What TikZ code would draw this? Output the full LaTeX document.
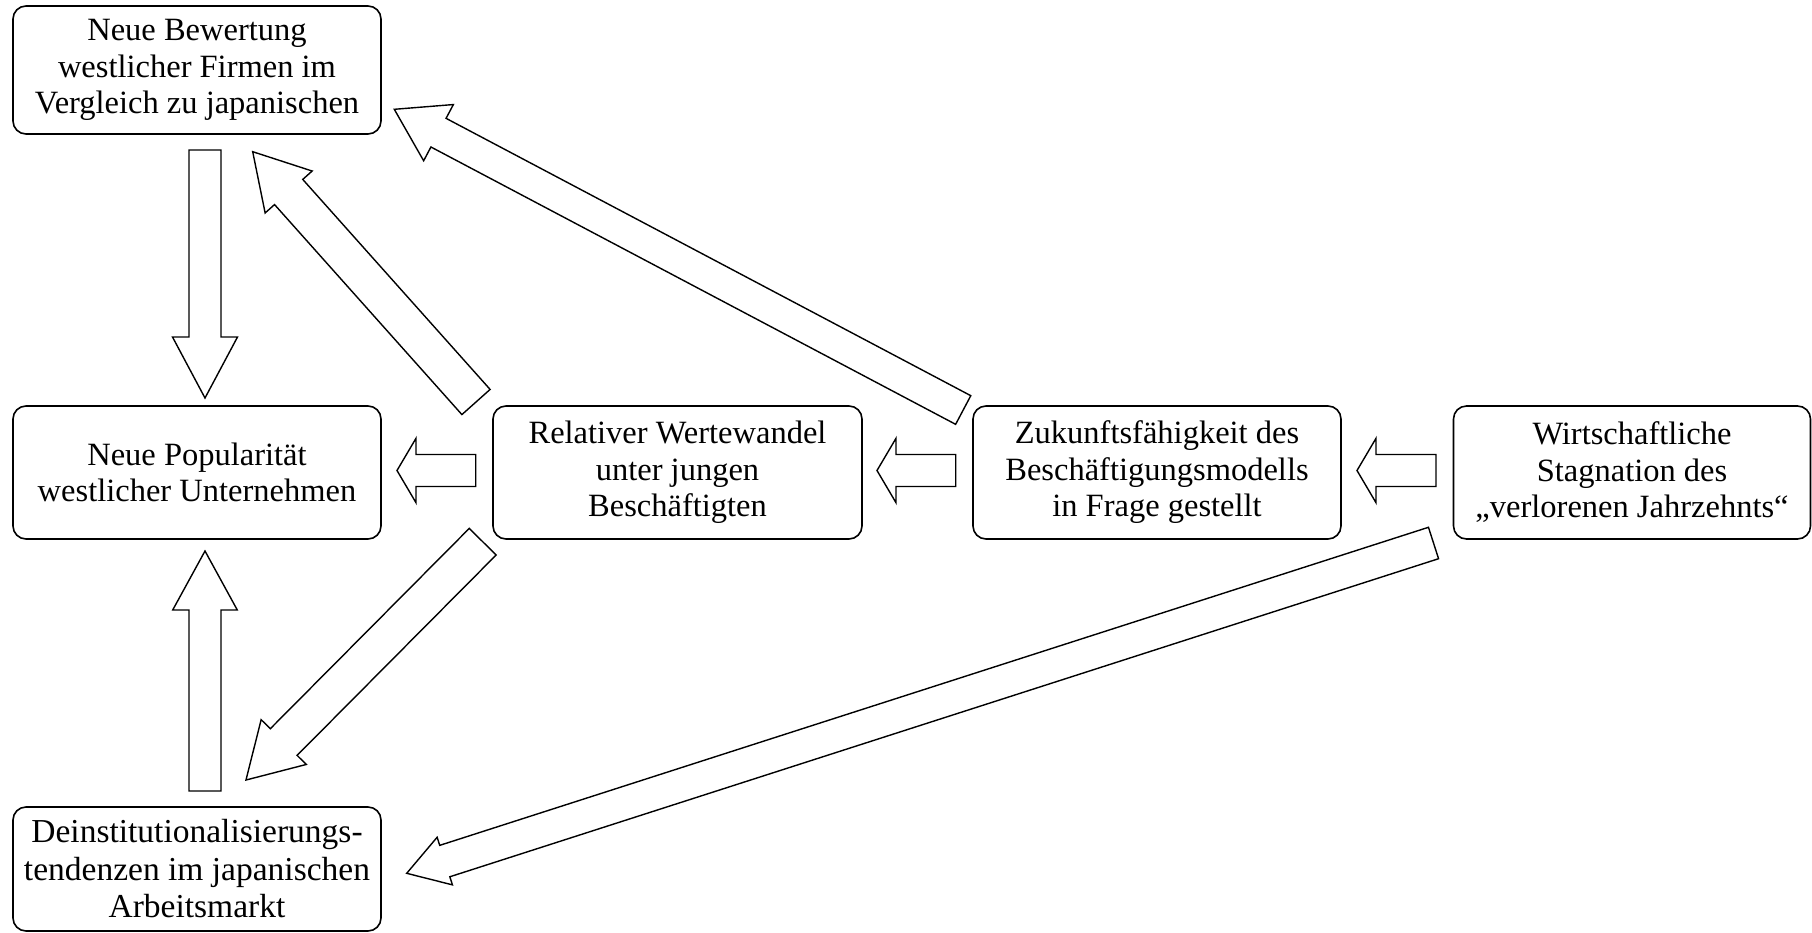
\documentclass[tikz,border=0pt]{standalone}
\usepackage{fontspec}
\setmainfont{Liberation Serif}
\usetikzlibrary{calc}
\tikzset{
  box/.style={draw, line width=1.6pt, rounded corners=13pt, align=center,
    font=\fontsize{32.5}{36.5}\selectfont, inner sep=0pt},
  barrow/.style={draw, line width=1.4pt, line join=miter, fill=white},
}
% #1 tail, #2 tip, #3 half shaft width, #4 half head width, #5 head length
\newcommand\blkarrow[5]{%
  \path ($(#2)!#5!(#1)$) coordinate (hb);
  \draw[barrow] ($(#1)!#3!90:(#2)$) -- ($(hb)!#3!-90:(#1)$) -- ($(hb)!#4!-90:(#1)$)
    -- (#2) -- ($(hb)!#4!90:(#1)$) -- ($(hb)!#3!90:(#1)$) -- ($(#1)!#3!-90:(#2)$) -- cycle;
}
\begin{document}
\begin{tikzpicture}[x=1pt,y=-1pt]
\useasboundingbox (0,0) rectangle (1812,932);
% boxes
\node[box, minimum width=368pt, minimum height=128pt] (A) at (197,70)
  {Neue Bewertung\\westlicher Firmen im\\Vergleich zu japanischen};
\node[box, minimum width=368pt, minimum height=133pt] (B) at (197,472.5)
  {Neue Popularität\\westlicher Unternehmen};
\node[box, minimum width=369pt, minimum height=133pt] (C) at (677.5,472.5)
  {Relativer Wertewandel\\unter jungen\\Beschäftigten};
\node[box, minimum width=368pt, minimum height=133pt] (D) at (1157,472.5)
  {Zukunftsfähigkeit des\\Beschäftigungsmodells\\in Frage gestellt};
\node[box, minimum width=357pt, minimum height=133pt] (E) at (1632,472.5)
  {Wirtschaftliche\\Stagnation des\\„verlorenen Jahrzehnts“};
\node[box, minimum width=368pt, minimum height=124pt,
  font=\fontsize{33.5}{37.5}\selectfont] (F) at (197,869)
  {Deinstitutionalisierungs-\\tendenzen im japanischen\\Arbeitsmarkt};
% arrow end points
\coordinate (ABt) at (205,150);    \coordinate (ABh) at (205,398);
\coordinate (FBt) at (205,791);    \coordinate (FBh) at (205,551);
\coordinate (CAt) at (476,402);    \coordinate (CAh) at (252.7,151.7);
\coordinate (CFt) at (482.7,541.7);\coordinate (CFh) at (246,780);
\coordinate (DAt) at (963.2,410);  \coordinate (DAh) at (394.3,109.3);
\coordinate (CBt) at (475.7,470.5);\coordinate (CBh) at (397,470.5);
\coordinate (DCt) at (955.7,470.5);\coordinate (DCh) at (877,470.5);
\coordinate (EDt) at (1436,470.5); \coordinate (EDh) at (1357,470.5);
\coordinate (EFt) at (1433.5,543); \coordinate (EFh) at (406.7,873.3);
% arrows
\blkarrow{ABt}{ABh}{16pt}{32.5pt}{61pt}
\blkarrow{FBt}{FBh}{16pt}{32.3pt}{59pt}
\blkarrow{CAt}{CAh}{18.9pt}{31.5pt}{54pt}
\blkarrow{CFt}{CFh}{18.9pt}{31.8pt}{53.5pt}
\blkarrow{DAt}{DAh}{16.2pt}{31.8pt}{50pt}
\blkarrow{CBt}{CBh}{16pt}{32.2pt}{19pt}
\blkarrow{DCt}{DCh}{16pt}{32.2pt}{19pt}
\blkarrow{EDt}{EDh}{16pt}{32.2pt}{19pt}
\blkarrow{EFt}{EFh}{16.5pt}{25pt}{40pt}
\end{tikzpicture}
\end{document}
